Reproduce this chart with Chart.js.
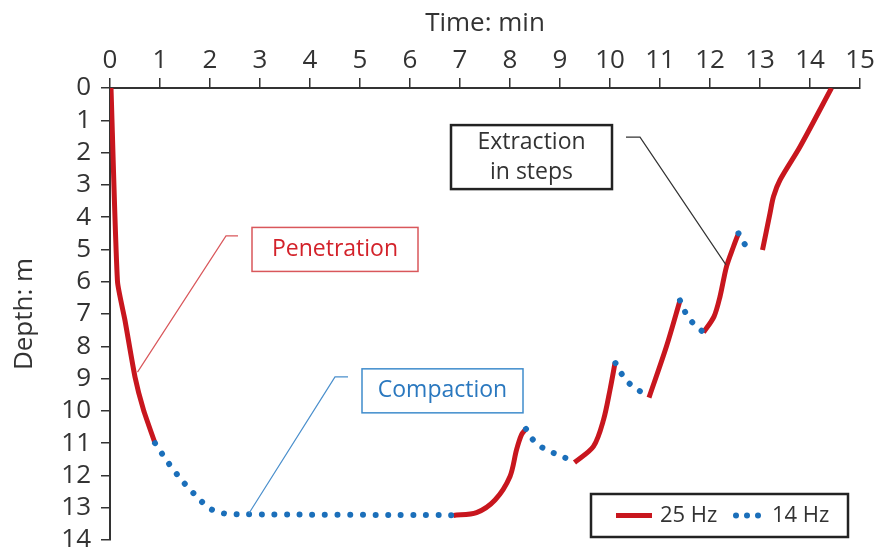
<!DOCTYPE html>
<html><head><meta charset="utf-8">
<script src="https://cdn.jsdelivr.net/npm/chart.js@4.4.1/dist/chart.umd.min.js"></script>
<style>html,body{margin:0;padding:0;background:#fff}</style>
</head><body>
<canvas id="c" width="878" height="552"></canvas>
<script>
// ---- data (time in min, depth in m) ----
const xTickValues = [0,1,2,3,4,5,6,7,8,9,10,11,12,13,14,15];
const yTickValues = [0,1,2,3,4,5,6,7,8,9,10,11,12,13,14];
const seriesNames = ["25 Hz", "14 Hz"];

// 25 Hz segments (solid red)
const penetration25 = [[0.02,0],[0.15,6],[0.3,7.2],[0.5,8.95],[0.67,9.97],[0.9,11.0]];
const step1_25 = [[6.87,13.24],[7.33,13.15],[7.7,12.76],[8.0,12.03],[8.13,11.21],[8.23,10.74],[8.32,10.56]];
const step2_25 = [[9.29,11.6],[9.67,11.1],[9.87,10.28],[10.0,9.35],[10.1,8.52]];
const step3_25 = [[10.78,9.59],[11.13,8.0],[11.4,6.58]];
const step4_25 = [[11.87,7.57],[12.08,7.08],[12.2,6.46],[12.33,5.53],[12.47,4.91],[12.57,4.5]];
const step5_25 = [[13.05,5.02],[13.2,3.88],[13.27,3.36],[13.4,2.85],[13.8,1.82],[14.43,0.0]];

// 14 Hz segments (dotted blue)
const compaction14 = [[0.9,11.0],[1.18,11.64],[1.48,12.23],[1.82,12.79],[2.0,13.03],[2.22,13.16],[2.5,13.2],[6.87,13.23]];
const pause1_14 = [[8.32,10.56],[8.45,10.88],[8.63,11.12],[8.85,11.29],[9.07,11.43],[9.29,11.6]];
const pause2_14 = [[10.11,8.52],[10.23,8.85],[10.38,9.14],[10.58,9.37],[10.78,9.59]];
const pause3_14 = [[11.4,6.58],[11.5,6.93],[11.63,7.23],[11.81,7.49],[11.87,7.57]];
const pause4_14 = [[12.57,4.5],[12.68,4.81],[12.83,5.05]];

// annotation text and anchors (data units)
const annotations = [
  {lines:["Penetration"], center:[4.5,5.0], w:166, h:44, text:"#d3222a", border:"#d9575b", bw:1.5,
   leader:[[2.56,4.58],[2.32,4.58],[0.55,8.8]], leaderColor:"#d9575b"},
  {lines:["Compaction"], center:[6.65,9.38], w:161, h:44, text:"#2a78bf", border:"#3f8ccc", bw:1.5,
   leader:[[4.76,8.95],[4.5,8.95],[2.78,13.17]], leaderColor:"#4a8fcc"},
  {lines:["Extraction","in steps"], center:[8.43,2.14], w:161, h:64, text:"#333333", border:"#222222", bw:2.5,
   leader:[[10.32,1.52],[10.6,1.52],[12.32,5.48]], leaderColor:"#333333"}
];

const RED = "#c8161e", BLUE = "#1b6fba", FONT = "'Open Sans', sans-serif";
const toPts = a => a.map(p => ({x:p[0], y:p[1]}));
const redStyle = {borderColor:RED, borderWidth:5, pointRadius:0, tension:0.3, borderJoinStyle:"round", borderCapStyle:"butt", fill:false};
const blueStyle = {borderColor:BLUE, borderWidth:6, pointRadius:0, tension:0.3, borderDash:[0.01,12.6], borderCapStyle:"round", fill:false};

const datasets = [];
[compaction14,pause1_14,pause2_14,pause3_14,pause4_14].forEach(s => datasets.push(Object.assign({label:seriesNames[1], data:toPts(s)}, blueStyle)));
[penetration25,step1_25,step2_25,step3_25,step4_25,step5_25].forEach((s,i) => datasets.push(Object.assign({label:seriesNames[0], data:toPts(s)}, redStyle, i===0?{tension:0.18}:{})));

const annotationPlugin = {
  id:"annot",
  afterDatasetsDraw(chart){
    const ctx = chart.ctx, xs = chart.scales.x, ys = chart.scales.y;
    ctx.save();
    annotations.forEach(a => {
      ctx.beginPath();
      a.leader.forEach((p,i) => {
        const px = xs.getPixelForValue(p[0]), py = ys.getPixelForValue(p[1]);
        if (i===0) ctx.moveTo(px,py); else ctx.lineTo(px,py);
      });
      ctx.strokeStyle = a.leaderColor; ctx.lineWidth = 1.2; ctx.stroke();
      const cx = xs.getPixelForValue(a.center[0]), cy = ys.getPixelForValue(a.center[1]);
      ctx.fillStyle = "#fff";
      ctx.fillRect(cx-a.w/2, cy-a.h/2, a.w, a.h);
      ctx.strokeStyle = a.border; ctx.lineWidth = a.bw;
      ctx.strokeRect(cx-a.w/2, cy-a.h/2, a.w, a.h);
      ctx.fillStyle = a.text; ctx.font = "23px " + FONT;
      ctx.textAlign = "center"; ctx.textBaseline = "middle";
      const lh = 30, n = a.lines.length;
      a.lines.forEach((t,i) => ctx.fillText(t, cx, cy + (i-(n-1)/2)*lh));
    });
    // legend box
    const ca = chart.chartArea;
    const bx1 = ca.right-269, by1 = ca.bottom-46, bw = 257, bh = 43;
    ctx.fillStyle="#fff"; ctx.fillRect(bx1,by1,bw,bh);
    ctx.strokeStyle="#222"; ctx.lineWidth=2.5; ctx.strokeRect(bx1,by1,bw,bh);
    const my = by1 + bh/2;
    ctx.beginPath(); ctx.moveTo(bx1+25,my); ctx.lineTo(bx1+61,my);
    ctx.strokeStyle=RED; ctx.lineWidth=5; ctx.lineCap="butt"; ctx.stroke();
    ctx.fillStyle="#333"; ctx.font="22px "+FONT; ctx.textAlign="left"; ctx.textBaseline="middle";
    ctx.fillText(seriesNames[0], bx1+69, my);
    ctx.fillStyle=BLUE;
    [0,1,2].forEach(i => { ctx.beginPath(); ctx.arc(bx1+145+i*11, my, 3, 0, Math.PI*2); ctx.fill(); });
    ctx.fillStyle="#333";
    ctx.fillText(seriesNames[1], bx1+181, my);
    ctx.restore();
  }
};

new Chart(document.getElementById("c"), {
  type:"line",
  data:{datasets},
  options:{
    responsive:false, animation:false, devicePixelRatio:1,
    layout:{padding:{left:0, top:0, right:18, bottom:12}},
    plugins:{legend:{display:false}, tooltip:{enabled:false}},
    scales:{
      x:{type:"linear", position:"top", min:0, max:15,
        afterBuildTicks: s => { s.ticks = xTickValues.map(v => ({value:v})); },
        afterFit: s => { s.height = 88; s.paddingLeft = 0; s.paddingRight = 0; },
        ticks:{font:{family:FONT, size:26}, color:"#333", padding:2, maxRotation:0, autoSkip:false},
        grid:{drawOnChartArea:false, drawTicks:true, tickLength:10, color:"#333", lineWidth:1.5},
        border:{display:true, color:"#333", width:2},
        title:{display:true, text:"Time: min", font:{family:FONT, size:26}, color:"#333", padding:{top:8, bottom:0}}
      },
      y:{type:"linear", reverse:true, min:0, max:14,
        afterBuildTicks: s => { s.ticks = yTickValues.map(v => ({value:v})); },
        afterFit: s => { s.width = 110; s.paddingTop = 0; s.paddingBottom = 0; },
        ticks:{font:{family:FONT, size:26}, color:"#333", padding:10, autoSkip:false},
        grid:{drawOnChartArea:false, drawTicks:true, tickLength:9, color:"#333", lineWidth:1.5},
        border:{display:true, color:"#333", width:2},
        title:{display:true, text:"Depth: m", font:{family:FONT, size:26}, color:"#333", padding:{top:9, bottom:0}}
      }
    }
  },
  plugins:[annotationPlugin]
});
</script>
</body></html>
